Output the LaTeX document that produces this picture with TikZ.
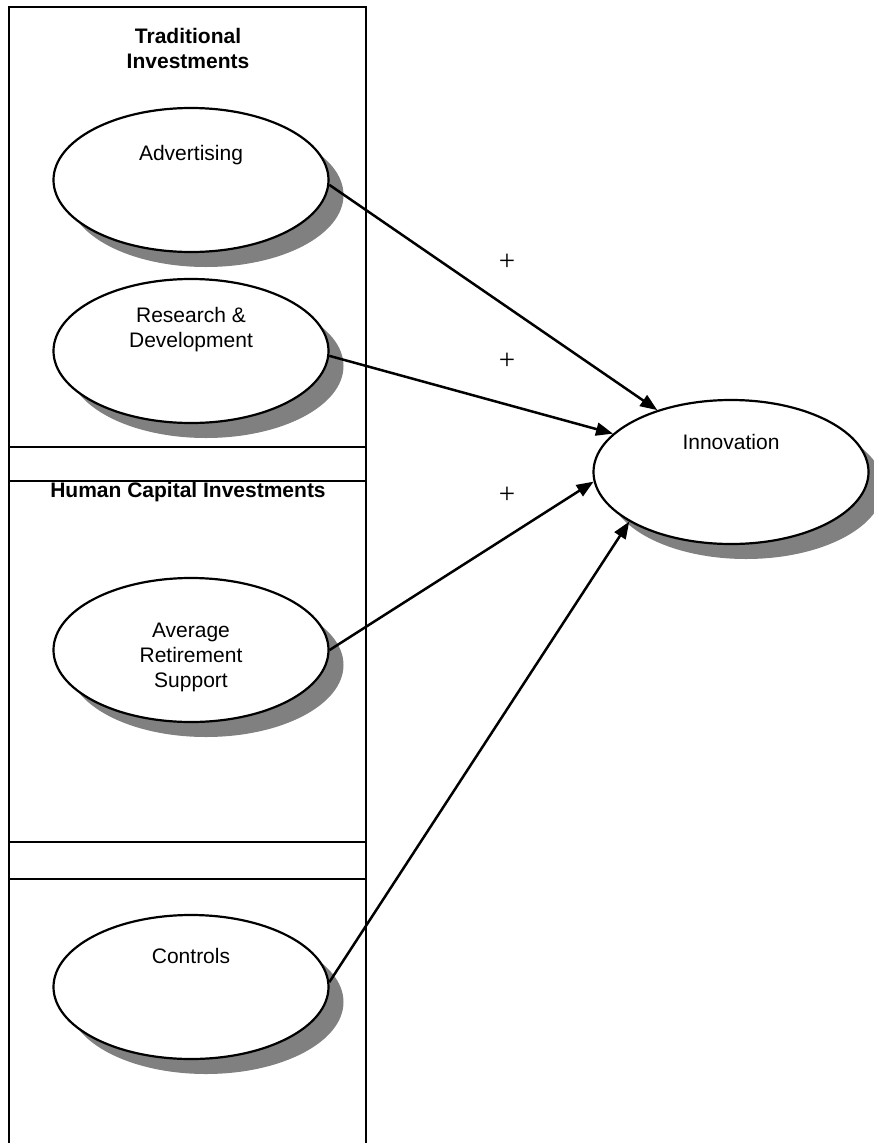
\documentclass[tikz,border=0pt]{standalone}
\usepackage{fontspec}
\setmainfont{Liberation Sans}
\newfontfamily\plusfont{Liberation Serif}
\usetikzlibrary{arrows.meta,shapes.geometric,shadows}
\begin{document}
\begin{tikzpicture}[x=1pt,y=-1pt,
  construct/.style={ellipse,draw=black,line width=2.2pt,fill=white,
    minimum width=275pt,minimum height=144pt,inner sep=0pt,
    drop shadow={shadow xshift=15pt,shadow yshift=-15pt,fill=black!50,opacity=1}},
  lbl/.style={font=\fontsize{21}{25}\selectfont,align=center,anchor=base,inner sep=0pt},
  head/.style={font=\fontsize{21}{25}\selectfont\bfseries,align=center,anchor=base,inner sep=0pt},
  frame/.style={draw=black,line width=2.2pt},
  link/.style={line width=2.5pt,-{Triangle[length=17pt,width=13pt]}},
  sign/.style={font=\plusfont\fontsize{29}{29}\selectfont,inner sep=0pt}]
\useasboundingbox (0,0) rectangle (874,1143);
\clip (0,0) rectangle (874,1143);
% frames
\draw[frame] (9,1160) -- (9,7) -- (366,7) -- (366,1160);
\draw[frame] (9,447) -- (366,447);
\draw[frame] (9,481) -- (366,481);
\draw[frame] (9,842) -- (366,842);
\draw[frame] (9,879) -- (366,879);
% headings
\node[head] (h1) at (188,43) {Traditional};
\node[head] (h2) at (188,68) {Investments};
\node[head] (h3) at (188,497) {Human Capital Investments};
% constructs
\node[construct] (adv) at (191,180) {};
\node[construct] (rd) at (191,351) {};
\node[construct] (avg) at (191,650) {};
\node[construct] (ctl) at (191,987) {};
\node[construct] (inn) at (731,472) {};
% texts
\node[lbl] (advt) at (191,160) {Advertising};
\node[lbl] (rdt1) at (191,322) {Research \&};
\node[lbl] (rdt2) at (191,347) {Development};
\node[lbl] (avgt1) at (191,637) {Average};
\node[lbl] (avgt2) at (191,662) {Retirement};
\node[lbl] (avgt3) at (191,687) {Support};
\node[lbl] (ctlt) at (191,963) {Controls};
\node[lbl] (innt) at (731,449) {Innovation};
% links
\draw[link] (adv.-2) -- (inn.140);
\draw[link] (rd.-2) -- (inn.162);
\draw[link] (avg.0) -- (inn.184);
\draw[link] (ctl.2) -- (inn.206);
% signs
\node[sign] (p1) at (507,262) {+};
\node[sign] (p2) at (507,361) {+};
\node[sign] (p3) at (507,495) {+};
\end{tikzpicture}
\end{document}
